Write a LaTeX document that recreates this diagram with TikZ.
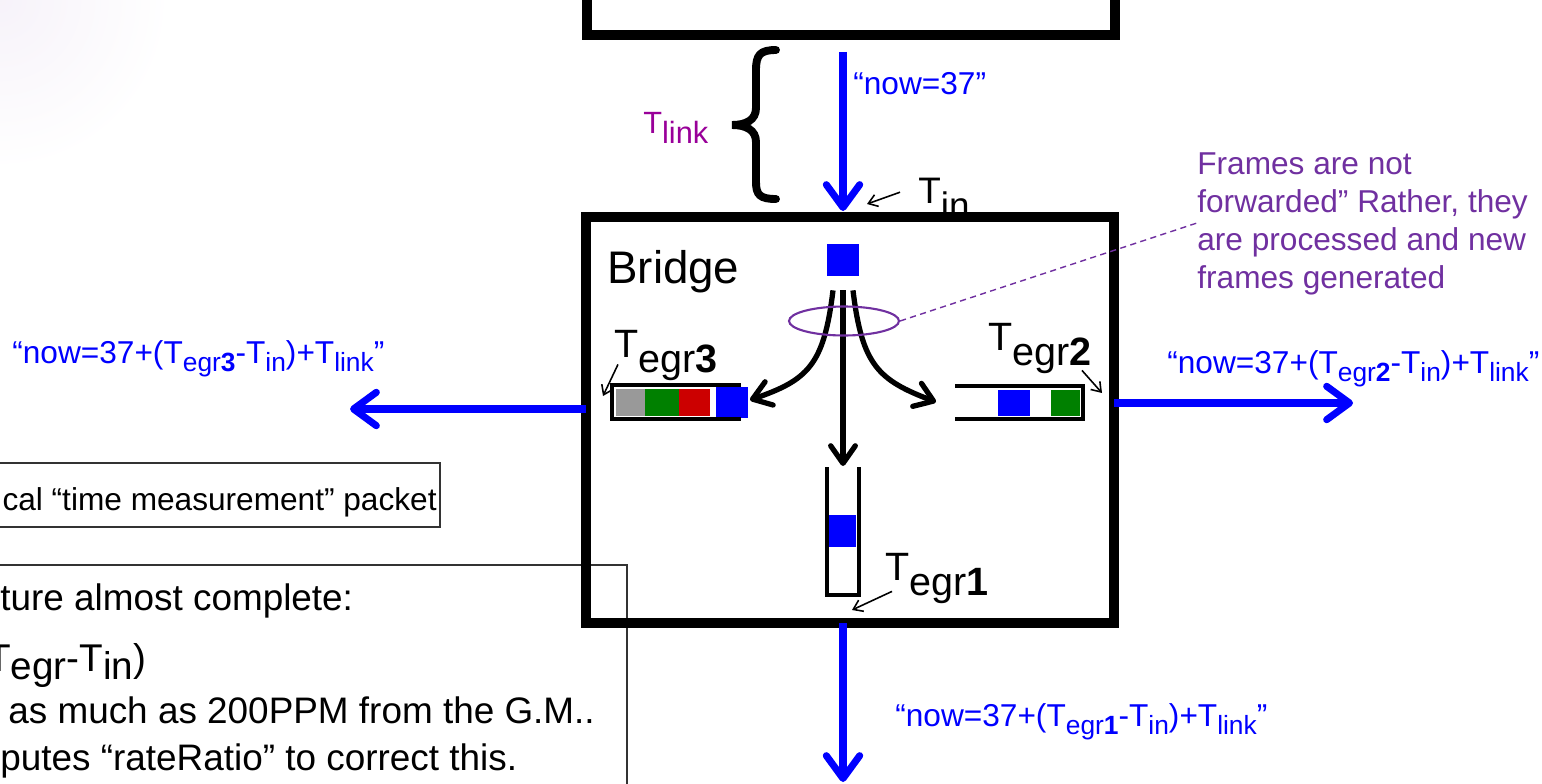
\documentclass[tikz,border=0pt]{standalone}
\usepackage{fontspec}
\setmainfont{Liberation Sans}
\usetikzlibrary{arrows.meta,calc,shapes.geometric}
\definecolor{linkblue}{HTML}{0000FF}
\definecolor{notepurple}{HTML}{7030A0}
\definecolor{linkpurple}{HTML}{990099}
\definecolor{qgray}{HTML}{999999}
\definecolor{qgreen}{HTML}{008000}
\definecolor{qred}{HTML}{CC0000}
\newcommand{\msub}[1]{\raisebox{-5pt}{\fontsize{15}{15}\selectfont #1}}
\newcommand{\esub}[1]{\raisebox{-9pt}{#1}}

\begin{document}
\begin{tikzpicture}[x=0.02cm,y=-0.02cm,
    wall/.style={line width=5.5pt},
    wire/.style={linkblue,line width=4pt,-{Straight Barb[length=13pt,width=19pt,round]}},
    flow/.style={line width=3pt,-{Straight Barb[length=10pt,width=14pt,round]}},
    pointer/.style={line width=0.9pt,-{Straight Barb[length=5pt,width=7pt]}},
    queue/.style={line width=2.5pt},
    msg/.style={linkblue,font=\fontsize{18}{18}\selectfont,anchor=base west,inner sep=0},
    tlabel/.style={font=\fontsize{22.5}{22.5}\selectfont,anchor=base west,inner sep=0},
    note/.style={draw=black!80,line width=0.6pt},
    notetext/.style={font=\fontsize{21}{21}\selectfont,anchor=base west,inner sep=0}]
  \useasboundingbox (0,0) rectangle (1542,784);
  \shade[inner color=notepurple!6,outer color=white] (0,0) circle [radius=170];

  % text boxes cut by the left edge
  \draw[note] (-5,463) rectangle (440,527);
  \node[notetext,font=\fontsize{18}{18}\selectfont,anchor=base east] (pktNote) at (437,510) {cal “time measurement” packet};
  \draw[note] (-5,565) rectangle (627,800);
  \node[notetext] (recapA) at (0,610) {ture almost complete:};
  \node[notetext,font=\fontsize{22}{22}\selectfont] (recapB) at (-13,671) {T\raisebox{-5pt}{egr}-T\raisebox{-5pt}{in})};
  \node[notetext] (recapC) at (8,723) {as much as 200PPM from the G.M..};
  \node[notetext] (recapD) at (0,770) {putes “rateRatio” to correct this.};

  % upstream port and link
  \draw[wall] (587,0) -- (587,35) -- (1115,35) -- (1115,0);
  \coordinate (upstream) at (843,52);
  \coordinate (inPort) at (843,211);
  \draw[wire] (upstream) -- (inPort);
  \node[msg] (nowIn) at (853,95) {“now=37”};
  \draw[line width=4.5pt,line cap=round]
    (776,50) .. controls (760,50) and (756,55) .. (756,70) -- (756,108)
    .. controls (756,120) and (746,125) .. (732,125)
    .. controls (746,125) and (756,130) .. (756,142) -- (756,182)
    .. controls (756,195) and (760,199) .. (776,199);
  \node[linkpurple,font=\fontsize{17.5}{17.5}\selectfont,anchor=base west,inner sep=0] (tLink) at (643,133) {T\raisebox{-5.7pt}{link}};
  \node[tlabel,font=\fontsize{21}{21}\selectfont] (tIn) at (918,203) {T\esub{in}};
  \coordinate (inTip) at (867,204);
  \draw[pointer] ($(tIn.west)+(-18,-6)$) -- (inTip);

  % bridge
  \draw[wall] (586,217) rectangle (1114,623);
  \node[tlabel,font=\fontsize{26}{26}\selectfont] (bridgeLabel) at (607,283) {Bridge};
  \node[fill=linkblue,minimum size=0.64cm,inner sep=0] (pkt) at (843,260) {};

  \coordinate (q3tip) at (750,400);
  \coordinate (q2tip) at (936,402);
  \coordinate (q1tip) at (843,466);
  \draw[flow] ($(pkt.south)+(-10,14)$) .. controls (824,365) and (808,380) .. (q3tip);
  \draw[flow] ($(pkt.south)+(10,14)$) .. controls (862,365) and (878,380) .. (q2tip);
  \draw[flow] ($(pkt.south)+(0,14)$) -- (q1tip);

  \node[ellipse,draw=notepurple,line width=1.2pt,minimum width=2.2cm,minimum height=0.58cm,inner sep=0] (fanRing) at (844,321) {};
  \node[notepurple,font=\fontsize{18}{21.7}\selectfont,align=left,anchor=north west,inner sep=0] (note) at (1197,152)
    {Frames are not\\forwarded” Rather, they\\are processed and new\\frames generated};
  \coordinate (noteEnd) at (1197,223);
  \draw[notepurple,line width=0.8pt,dash pattern=on 3.5pt off 2.5pt] (fanRing.east) -- (noteEnd);

  % egress queue 3
  \foreach \xa/\xb/\c in {616/645/qgray,645/679/qgreen,679/710/qred,710/716/white}
    \fill[\c] (\xa,389) rectangle (\xb,416);
  \fill[linkblue] (716,387) rectangle (748,418);
  \draw[queue] (741,385) -- (612,385) -- (612,419) -- (741,419);
  \node[tlabel] (tEgr3) at (614,357) {T\esub{egr\textbf{3}}};
  \coordinate (egr3End) at (603,396);
  \draw[pointer] ($(tEgr3.west)+(4,9)$) -- (egr3End);

  % egress queue 2
  \foreach \xa/\xb/\c in {998/1030/linkblue,1030/1051/white,1051/1080/qgreen}
    \fill[\c] (\xa,390) rectangle (\xb,416);
  \draw[queue] (955,386) -- (1083,386) -- (1083,419) -- (955,419);
  \node[tlabel] (tEgr2) at (988,350) {T\esub{egr\textbf{2}}};
  \coordinate (egr2End) at (1102,393);
  \draw[pointer] ($(tEgr2.east)+(-10,22)$) -- (egr2End);

  % egress queue 1
  \fill[linkblue] (829,515) rectangle (856,547);
  \draw[queue] (827,467) -- (827,595) -- (859,595) -- (859,467);
  \node[tlabel] (tEgr1) at (885,580) {T\esub{egr\textbf{1}}};
  \coordinate (egr1End) at (852,610);
  \draw[pointer] ($(tEgr1.west)+(7,13)$) -- (egr1End);

  % outgoing links
  \coordinate (portW) at (586,409);
  \coordinate (outW) at (350,409);
  \coordinate (portE) at (1114,403);
  \coordinate (outE) at (1353,403);
  \coordinate (portS) at (843,623);
  \coordinate (outS) at (843,782);
  \draw[wire] (portW) -- (outW);
  \draw[wire] (portE) -- (outE);
  \draw[wire] (portS) -- (outS);
  \node[msg] (nowW) at (12,363) {“now=37+(T\msub{egr\textbf{3}}-T\msub{in})+T\msub{link}”};
  \node[msg] (nowE) at (1167,373) {“now=37+(T\msub{egr\textbf{2}}-T\msub{in})+T\msub{link}”};
  \node[msg] (nowS) at (895,726) {“now=37+(T\msub{egr\textbf{1}}-T\msub{in})+T\msub{link}”};
\end{tikzpicture}
\end{document}
